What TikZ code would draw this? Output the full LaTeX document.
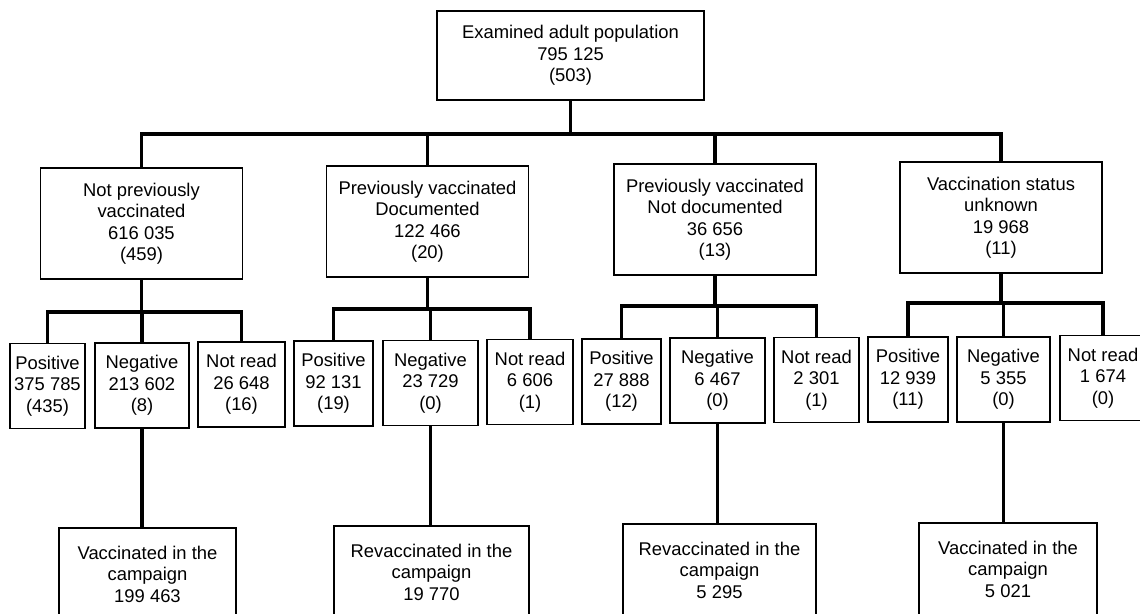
\documentclass[tikz,border=0pt]{standalone}
\usepackage{fontspec}
\setmainfont{Liberation Sans}
\usepackage{tikz}
\tikzstyle{block} = [rectangle, draw, line width=0.7pt, align=center, inner sep=0pt]
\tikzstyle{group} = [block, minimum width=101pt, minimum height=55.5pt]
\tikzstyle{result} = [block, minimum height=42.5pt]
\tikzstyle{campaign} = [block, minimum height=46pt]
\tikzstyle{junction} = [coordinate]
\tikzstyle{link} = [line width=1.6pt]

\begin{document}
\begin{tikzpicture}[x=0.5pt, y=-0.5pt, font=\fontsize{9.2pt}{10.75pt}\selectfont]
                      \useasboundingbox (0,0) rectangle (1140,614);
                      \clip (0,0) rectangle (1140,614);

                      % Nodes
                      \node [block, minimum width=133.5pt, minimum height=44.5pt] (exam) at (570.5,55.5) {Examined adult population\\795 125\\(503)};

                      \node [group] (novac) at (141.5,223.5) {Not previously\\vaccinated\\616 035\\(459)};
                      \node [group] (docvac) at (427.5,221.5) {Previously vaccinated\\Documented\\122 466\\(20)};
                      \node [group] (undoc) at (715,219.5) {Previously vaccinated\\Not documented\\36 656\\(13)};
                      \node [group] (unknown) at (1001,217.5) {Vaccination status\\unknown\\19 968\\(11)};

                      \node [result, minimum width=37.5pt] (pos1) at (47.5,386) {Positive\\375 785\\(435)};
                      \node [result, minimum width=47pt] (neg1) at (142,385.5) {Negative\\213 602\\(8)};
                      \node [result, minimum width=43.5pt] (nread1) at (241.5,384.5) {Not read\\26 648\\(16)};
                      \node [result, minimum width=39.5pt] (pos2) at (333.5,383.5) {Positive\\92 131\\(19)};
                      \node [result, minimum width=47.5pt] (neg2) at (430.5,383) {Negative\\23 729\\(0)};
                      \node [result, minimum width=43pt] (nread2) at (530,382) {Not read\\6 606\\(1)};
                      \node [result, minimum width=39.5pt] (pos3) at (621.5,381.5) {Positive\\27 888\\(12)};
                      \node [result, minimum width=47.5pt] (neg3) at (717.5,380.5) {Negative\\6 467\\(0)};
                      \node [result, minimum width=42.5pt] (nread3) at (816.5,380) {Not read\\2 301\\(1)};
                      \node [result, minimum width=40pt] (pos4) at (908,379.5) {Positive\\12 939\\(11)};
                      \node [result, minimum width=46.5pt] (neg4) at (1003.5,379.5) {Negative\\5 355\\(0)};
                      \node [result, minimum width=43pt] (nread4) at (1103,378) {Not read\\1 674\\(0)};

                      \node [campaign, minimum width=88.5pt] (vac1) at (147.5,574) {Vaccinated in the\\campaign\\199 463};
                      \node [campaign, minimum width=97.5pt] (revac2) at (431.5,572) {Revaccinated in the\\campaign\\19 770};
                      \node [campaign, minimum width=96.5pt] (revac3) at (719.5,570) {Revaccinated in the\\campaign\\5 295};
                      \node [campaign, minimum width=89pt] (vac4) at (1008,569) {Vaccinated in the\\campaign\\5 021};

                      % Branch points
                      \node [junction] (split) at (570.5,134) {};
                      \node [junction] (split1) at (141.5,312) {};
                      \node [junction] (split2) at (427.5,309) {};
                      \node [junction] (split3) at (715,306) {};
                      \node [junction] (split4) at (1001,303) {};

                      % Connections
                      \draw [link] (exam) -- (split);
                      \draw [link] (split) -| (novac.north);
                      \draw [link] (split) -| (docvac.north);
                      \draw [link] (split) -| (undoc.north);
                      \draw [link] (split) -| (unknown.north);

                      \draw [link] (novac) -- (split1);
                      \draw [link] (split1) -| (pos1.north);
                      \draw [link] (split1) -| (neg1.north);
                      \draw [link] (split1) -| (nread1.north);

                      \draw [link] (docvac) -- (split2);
                      \draw [link] (split2) -| (pos2.north);
                      \draw [link] (split2) -| (neg2.north);
                      \draw [link] (split2) -| (nread2.north);

                      \draw [link] (undoc) -- (split3);
                      \draw [link] (split3) -| (pos3.north);
                      \draw [link] (split3) -| (neg3.north);
                      \draw [link] (split3) -| (nread3.north);

                      \draw [link] (unknown) -- (split4);
                      \draw [link] (split4) -| (pos4.north);
                      \draw [link] (split4) -| (neg4.north);
                      \draw [link] (split4) -| (nread4.north);

                      % Campaign
                      \draw [link] (neg1.south) -- (neg1.south |- vac1.north);
                      \draw [link] (neg2.south) -- (neg2.south |- revac2.north);
                      \draw [link] (neg3.south) -- (neg3.south |- revac3.north);
                      \draw [link] (neg4.south) -- (neg4.south |- vac4.north);

\end{tikzpicture}
\end{document}
